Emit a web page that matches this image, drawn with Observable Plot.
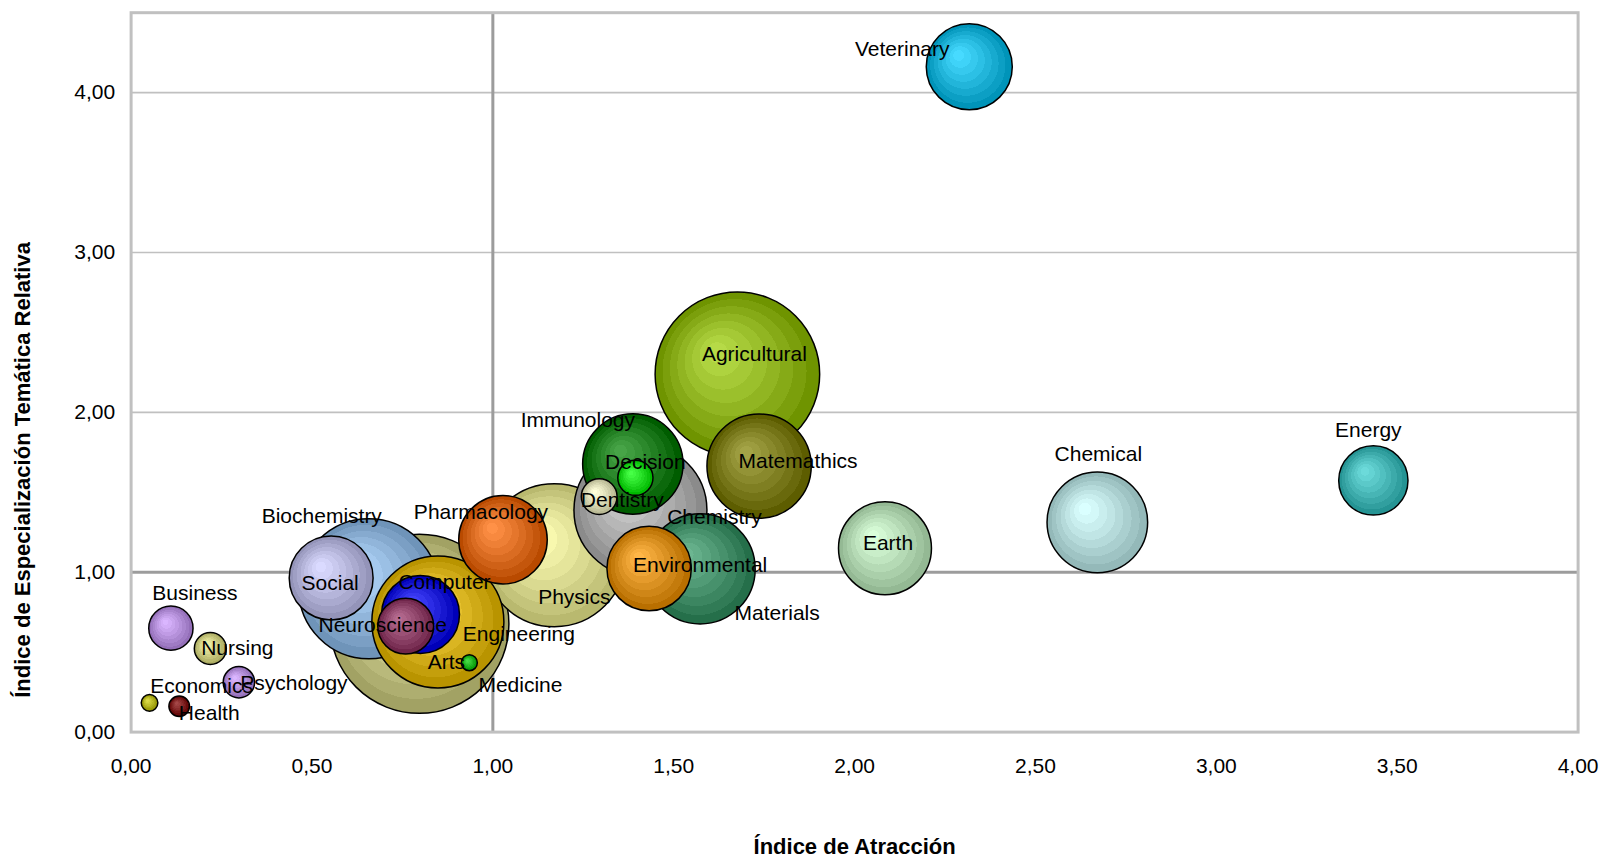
<!DOCTYPE html>
<html>
<head>
<meta charset="utf-8">
<script src="https://cdn.jsdelivr.net/npm/d3@7"></script>
<script src="https://cdn.jsdelivr.net/npm/@observablehq/plot@0.6"></script>
<style>
  html, body { margin: 0; padding: 0; background: #ffffff; }
  #chart { width: 1600px; height: 858px; }
</style>
</head>
<body>
<div id="chart"></div>
<script>
// ---- Data (drawing order: back to front) ----
const categories = [
  "Medicine", "Engineering", "Biochemistry", "Social", "Computer", "Neuroscience", "Arts",
  "Physics", "Pharmacology", "Materials", "Chemistry", "Immunology", "Dentistry", "Decision",
  "Environmental", "Agricultural", "Matemathics", "Earth", "Chemical", "Energy", "Veterinary",
  "Business", "Nursing", "Psychology", "Economics", "Health"
];
// Índice de Atracción (x)
const atraccion = [
  0.797, 0.848, 0.657, 0.553, 0.800, 0.759, 0.935,
  1.170, 1.028, 1.573, 1.408, 1.387, 1.294, 1.394,
  1.432, 1.676, 1.736, 2.084, 2.671, 3.434, 2.317,
  0.110, 0.219, 0.298, 0.051, 0.133
];
// Índice de Especialización Temática Relativa (y)
const especializacion = [
  0.677, 0.689, 0.897, 0.964, 0.736, 0.663, 0.434,
  1.106, 1.203, 1.021, 1.388, 1.677, 1.473, 1.591,
  1.023, 2.239, 1.664, 1.150, 1.312, 1.574, 4.162,
  0.650, 0.523, 0.312, 0.183, 0.162
];
// bubble size (relative volume)
const tamano = [
  80.1, 43.6, 49.0, 17.6, 15.2, 7.8, 0.64,
  51.0, 19.6, 30.3, 44.2, 25.2, 3.2, 3.1,
  17.8, 67.7, 27.2, 21.6, 25.3, 12.0, 18.5,
  4.9, 2.56, 2.46, 0.69, 1.06
];
const xTicks = [0, 0.5, 1, 1.5, 2, 2.5, 3, 3.5, 4];
const yTicks = [0, 1, 2, 3, 4];
const xTitle = "Índice de Atracción";
const yTitle = "Índice de Especialización Temática Relativa";

// ---- Styles ----
const colores = [
  "#E0E08A", "#FFCC00", "#99CCFF", "#CCCCFF", "#0000FF", "#993366", "#00CC00",
  "#FFFF99", "#FF6600", "#339966", "#C0C0C0", "#008000", "#FFFFCC", "#00FF00",
  "#FF9900", "#99CC00", "#808000", "#CCFFCC", "#CCFFFF", "#33CCCC", "#00CCFF",
  "#CC99FF", "#EEEE88", "#CC99FF", "#CCCC00", "#800000"
];
// label offsets from bubble centre, in pixels [dx, dy]
const labelOffsets = [
  [101, 61], [81, 12], [-47, -72], [-1, 5], [24, -32], [-23, -1], [-23, 0],
  [20, 42], [-22, -28], [77, 44], [74, 7], [-55, -44], [23, 4], [10, -15],
  [51, -3], [17, -20], [39, -5], [3, -5], [1, -68], [-5, -50], [-67, -17],
  [24, -35], [27, 0], [55, 1], [52, -17], [30, 7]
];

const idx = categories.map((_, i) => i);
const fmt = d => d.toFixed(2).replace(".", ",");
const FONT = "'Liberation Sans', Arial, Helvetica, sans-serif";

const labelMarks = idx.map(i => Plot.text([i], {
  x: j => atraccion[j],
  y: j => especializacion[j],
  text: j => categories[j],
  dx: labelOffsets[i][0],
  dy: labelOffsets[i][1],
  fontSize: 21,
  fill: "#000"
}));

const svg = Plot.plot({
  width: 1600,
  height: 858,
  marginLeft: 130.6,
  marginRight: 22.4,
  marginTop: 12.2,
  marginBottom: 126.4,
  style: { fontFamily: FONT, fontSize: "21px", color: "#000", background: "#fff" },
  x: { domain: [0, 4], ticks: xTicks, tickFormat: fmt, tickSize: 0, tickPadding: 26, label: null },
  y: { domain: [0, 4.5], ticks: yTicks, tickFormat: fmt, tickSize: 0, tickPadding: 16, label: null },
  r: { type: "sqrt", domain: [0, 100], range: [0, 100] },
  color: { type: "identity" },
  marks: [
    Plot.ruleY([1, 2, 3, 4], { stroke: "#c0c0c0", strokeWidth: 1.6 }),
    Plot.ruleY([1], { stroke: "#9c9c9c", strokeWidth: 3 }),
    Plot.ruleX([1], { stroke: "#9c9c9c", strokeWidth: 3 }),
    Plot.frame({ stroke: "#c0c0c0", strokeWidth: 3 }),
    Plot.dot(idx, {
      x: i => atraccion[i],
      y: i => especializacion[i],
      r: i => tamano[i],
      fill: i => `url(#bub-${i})`,
      stroke: "#000",
      strokeWidth: 1.5
    }),
    ...labelMarks,
    Plot.text([xTitle], { frameAnchor: "bottom", lineAnchor: "middle", textAnchor: "middle", dy: 114.4, fontWeight: "bold", fontSize: 22 }),
    Plot.text([yTitle], { frameAnchor: "left", lineAnchor: "middle", textAnchor: "middle", rotate: -90, dx: -108, dy: 97.5, fontWeight: "bold", fontSize: 22 })
  ]
});

// radial banded gradients (Excel-like)
const defs = d3.select(svg).insert("defs", ":first-child");
const nBands = 8;
colores.forEach((c, i) => {
  const light = d3.interpolateRgb(c, "#ffffff")(0.28);
  const dark = d3.color(c).darker(0.9).formatHex();
  const g = defs.append("radialGradient")
    .attr("id", `bub-${i}`)
    .attr("cx", 0.5).attr("cy", 0.5).attr("r", 0.5)
    .attr("fx", 0.36).attr("fy", 0.35);
  for (let k = 0; k < nBands; k++) {
    const t = Math.pow(k / (nBands - 1), 1.15);
    const col = d3.interpolateRgb(light, dark)(t);
    g.append("stop").attr("offset", k / nBands).attr("stop-color", col);
    g.append("stop").attr("offset", (k + 1) / nBands).attr("stop-color", col);
  }
});

document.getElementById("chart").appendChild(svg);
</script>
</body>
</html>
